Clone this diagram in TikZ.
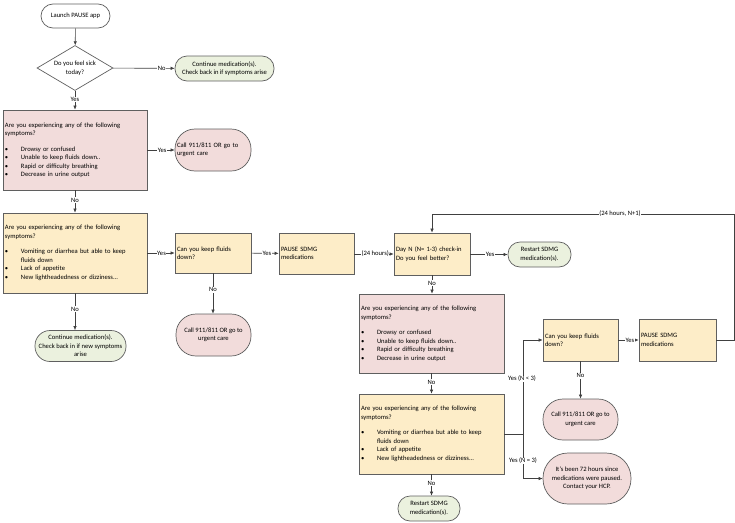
\documentclass[tikz,border=0pt]{standalone}
\usepackage{fontspec}
\setmainfont{Carlito}
\usetikzlibrary{shapes.geometric,arrows.meta}
\definecolor{pinkf}{HTML}{F2DCDB}
\definecolor{yelf}{HTML}{FDEDC8}
\definecolor{grnf}{HTML}{EBF1DE}
\definecolor{bord}{HTML}{5F5F5F}
\definecolor{linec}{HTML}{404040}
\newcommand{\fs}{\fontsize{6.6}{8.5}\selectfont}
\newcommand{\itm}[1]{\par\hangindent=16pt\hangafter=1\noindent\makebox[16pt][l]{\textbullet}#1\par}
\newcommand{\gapline}{\par\vspace{7pt}}
\tikzset{
  base/.style={draw=bord, line width=0.7pt, font=\fs, inner sep=2pt},
  box/.style={base, rectangle, align=left},
  term/.style={base, rectangle, rounded corners=#1, align=center},
  conn/.style={draw=linec, line width=0.6pt, -{Latex[length=4pt,width=3.5pt]}},
  plain/.style={draw=linec, line width=0.6pt},
  lab/.style={fill=white, inner sep=0.6pt, font=\fs},
}
\begin{document}
\begin{tikzpicture}[x=1pt,y=-1pt]
\useasboundingbox (0,0) rectangle (735,522);
% nodes
\node[term=12pt, minimum width=69pt, minimum height=24pt] (launch) at (75.5,16) {Launch PAUSE app};
\node[base, diamond, aspect=1.7, minimum width=76pt, minimum height=45pt, inner sep=0pt, align=center] (sick) at (75,68) {Do you feel sick\\today?};
\node[term=12pt, fill=grnf, minimum width=99pt, minimum height=25pt] (cont1) at (224.5,68.5) {Continue medication(s).\\Check back in if symptoms arise};
\node[box, fill=pinkf, text width=140pt, minimum height=80pt] (p1) at (75,150) {Are you experiencing any of the following\\symptoms?\gapline
\itm{Drowsy or confused}\itm{Unable to keep fluids down..}\itm{Rapid or difficulty breathing}\itm{Decrease in urine output}};
\node[base, rectangle, rounded corners=20pt, fill=pinkf, text width=72pt, minimum height=42pt, align=left] (call1) at (213,150) {Call 911/811 OR go to\\urgent care};
\node[box, fill=yelf, text width=140pt, minimum height=80pt] (y2) at (75,253) {Are you experiencing any of the following\\symptoms?\gapline
\itm{Vomiting or diarrhea but able to keep\newline fluids down}\itm{Lack of appetite}\itm{New lightheadedness or dizziness...}};
\node[box, fill=yelf, text width=72pt, minimum height=40pt] (fl1) at (213,253) {Can you keep fluids\\down?};
\node[box, fill=yelf, text width=71pt, minimum height=41pt] (pa1) at (316.5,253.5) {PAUSE SDMG\\medications};
\node[term=20pt, fill=pinkf, minimum width=75pt, minimum height=42pt] (call2) at (213.5,335) {Call 911/811 OR go to\\urgent care};
\node[term=15pt, fill=grnf, minimum width=91pt, minimum height=31pt] (cont2) at (80.5,346) {Continue medication(s).\\Check back in if new symptoms\\arise};
\node[box, fill=yelf, text width=72pt, minimum height=42pt] (dayn) at (432,254) {Day N (N= 1-3) check-in\\Do you feel better?};
\node[term=12pt, fill=grnf, minimum width=63pt, minimum height=25pt] (rs1) at (539.5,254.5) {Restart SDMG\\medication(s).};
\node[box, fill=pinkf, text width=141pt, minimum height=79pt] (p3) at (431.5,333.5) {Are you experiencing any of the following\\symptoms?\gapline
\itm{Drowsy or confused}\itm{Unable to keep fluids down..}\itm{Rapid or difficulty breathing}\itm{Decrease in urine output}};
\node[box, fill=yelf, text width=141pt, minimum height=80pt] (y4) at (431.5,434) {Are you experiencing any of the following\\symptoms?\gapline
\itm{Vomiting or diarrhea but able to keep\newline fluids down}\itm{Lack of appetite}\itm{New lightheadedness or dizziness...}};
\node[box, fill=yelf, text width=71pt, minimum height=42pt] (fl2) at (580.5,340) {Can you keep fluids\\down?};
\node[box, fill=yelf, text width=73pt, minimum height=42pt] (pa2) at (677.5,340) {PAUSE SDMG\\medications};
\node[term=20pt, fill=pinkf, minimum width=75pt, minimum height=41pt] (call3) at (580.5,419.5) {Call 911/811 OR go to\\urgent care};
\node[term=25pt, fill=pinkf, minimum width=88pt, minimum height=51pt] (h72) at (587,478.5) {It's been 72 hours since\\medications were paused.\\Contact your HCP.};
\node[term=12pt, fill=grnf, minimum width=62pt, minimum height=25pt] (rs2) at (429,508.5) {Restart SDMG\\medication(s).};
% connectors
\draw[conn] (launch) -- (sick);
\draw[conn] (sick) -- node[lab, pos=0.79] {No} (cont1);
\draw[conn] (sick) -- node[lab, pos=0.47] {Yes} (p1);
\draw[conn] (p1.east |- call1.west) -- node[lab, pos=0.54] {Yes} (call1.west);
\draw[conn] (p1) -- node[lab, pos=0.43] {No} (y2);
\draw[conn] (y2.east |- fl1.west) -- node[lab, pos=0.52] {Yes} (fl1.west);
\draw[conn] (fl1) -- node[lab, pos=0.57] {Yes} (pa1);
\draw[conn] (fl1) -- node[lab, pos=0.41] {No} (fl1 |- call2.north);
\draw[conn] (y2.south) -- node[lab, pos=0.43] {No} (y2.south |- cont2.north);
\draw[conn] (pa1.east |- dayn.west) -- node[lab, pos=0.53] {(24 hours)} (dayn.west);
\draw[conn] (dayn.east |- rs1.west) -- node[lab, pos=0.53] {Yes} (rs1.west);
\draw[conn] (dayn) -- node[lab, pos=0.42] {No} (dayn |- p3.north);
\draw[conn] (p3) -- node[lab, pos=0.43] {No} (y4);
\draw[conn] (y4.south) -- node[lab, pos=0.41] {No} (y4.south |- rs2.north);
\coordinate (jn) at (523,434);
\draw[plain] (y4.east) -- (jn);
\draw[conn] (jn) |- (fl2.west);
\draw[conn] (jn) |- (h72.west);
\node[lab] (lt3) at (522,379) {Yes (N < 3)};
\node[lab] (le3) at (523,461) {Yes (N = 3)};
\draw[conn] (fl2) -- node[lab, pos=0.57] {Yes} (pa2);
\draw[conn] (fl2) -- node[lab, pos=0.39] {No} (fl2 |- call3.north);
\coordinate (lpR) at (734,214);
\coordinate (lpL) at (432,214);
\draw[plain] (pa2.east) -| (lpR) -- (lpL);
\draw[conn] (lpL) -- (dayn.north);
\node[lab] (lpl) at (620,214) {(24 hours, N+1)};
\end{tikzpicture}
\end{document}
